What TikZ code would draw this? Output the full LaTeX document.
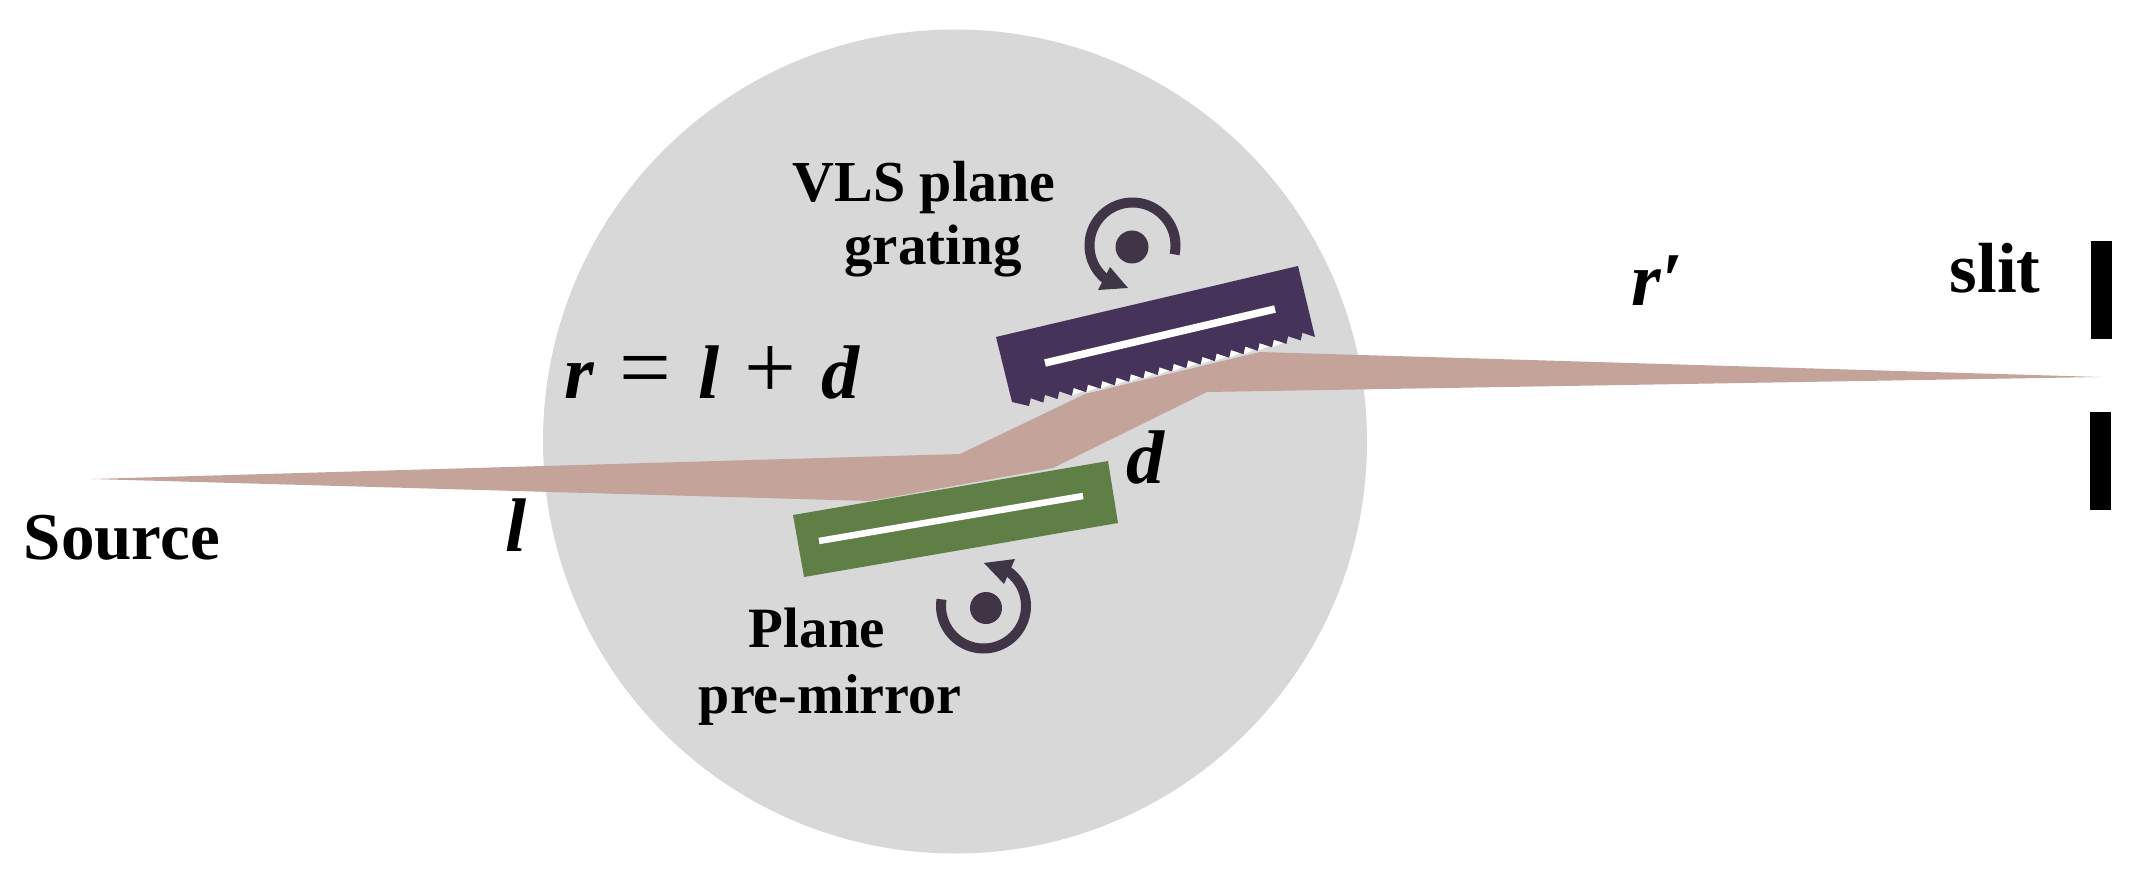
\documentclass[tikz,border=0pt]{standalone}
\usepackage{fontspec}
\setmainfont{Liberation Serif}
\definecolor{disc}{HTML}{D8D8D8}
\definecolor{beamc}{HTML}{C4A39B}
\definecolor{gratc}{HTML}{46335A}
\definecolor{mirc}{HTML}{5F7F47}
\definecolor{iconc}{HTML}{3F3547}
\newcommand{\labsize}[1]{\fontsize{#1}{#1}\selectfont\bfseries}
\newcommand{\opsym}[1]{{\fontsize{92}{92}\selectfont\normalfont #1}}
\tikzset{
  lab/.style={anchor=base, text=black, inner sep=0pt, align=center},
  mat/.style={anchor=base, font=\fontsize{76}{84}\selectfont\bfseries\itshape, text=black, inner sep=0pt},
  stripe/.style={draw=white, line width=7.5pt},
  turn/.style={draw=iconc, line width=10pt},
  slitbar/.style={fill=black}
}
\begin{document}
\begin{tikzpicture}[x=1pt,y=-1pt]
\useasboundingbox (0,0) rectangle (2133,882);
\fill[white] (0,0) rectangle (2133,882);
\fill[disc] (955,441.5) circle[radius=412pt];
% beam
\fill[beamc] (92,479) -- (960,454) -- (1085,394) -- (1260,352) -- (2100,377) -- (1207,392) -- (1053,468) -- (870,501) -- cycle;
% white notches of the ruling, where they meet the beam
\foreach \i in {2,...,16}{
  \fill[white] ({1315-14.3*\i-1},{337+3.45*\i-2}) -- ({1315-14.3*\i-14.3+1.7},{337+3.45*\i+3.45-7.7}) -- ({1315-14.3*\i-14.3},{337+3.45*\i+3.45}) -- cycle;
}
% grating
\fill[gratc] (996,337) -- (1298,266) -- (1315,337)
  \foreach \i in {0,...,19}{
    -- ({1315-14.3*\i-14.3+1.7},{337+3.45*\i+3.45-7.7})
    -- ({1315-14.3*\i-14.3},{337+3.45*\i+3.45})
  }
  -- (1012,402) -- cycle;
\draw[stripe] (1045,363) -- (1275,309);
% mirror
\fill[mirc] (793,515) -- (1108,461) -- (1118,523) -- (804,577) -- cycle;
\draw[stripe,line width=6.5pt] (819,541) -- (1083,496);
% rotation icons
\draw[turn] plot[domain=-12:233,samples=60] ({1132.5+43*cos(\x)},{245.5-43*sin(\x)});
\fill[iconc] (1110,267) -- (1128,288) -- (1098,290) -- cycle;
\fill[iconc] (1132,247) circle[radius=16.5pt];
\draw[turn] plot[domain=171:415,samples=60] ({983.5+42.5*cos(\x)},{606-42.5*sin(\x)});
\fill[iconc] (984,563) -- (1015,559) -- (1004,584) -- cycle;
\fill[iconc] (986,608) circle[radius=16pt];
% slit
\fill[slitbar] (2091,241) rectangle (2112,339);
\fill[slitbar] (2090,412) rectangle (2111,510);
% labels
\node[lab,font=\labsize{58}] (vls) at (924,202) {VLS plane};
\node[lab,font=\labsize{57}] (grat) at (933,265) {grating};
\node[lab,font=\labsize{57}] (plane) at (817,647) {Plane};
\node[lab,font=\labsize{56}] (pre) at (830,713) {pre-mirror};
\node[lab,font=\labsize{67}] (src) at (122,559) {Source};
\node[lab,font=\labsize{71}] (slit) at (1995,293) {slit};
\node[mat] (ml) at (516,551) {l};
\node[mat] (eq) at (712,399) {r\hspace{25pt}\opsym{=}\hspace{27pt}l\hspace{25pt}\opsym{+}\hspace{25pt}d};
\node[mat] (md) at (1145,483) {d};
\node[mat] (mr) at (1657,306) {r′};
\end{tikzpicture}
\end{document}
